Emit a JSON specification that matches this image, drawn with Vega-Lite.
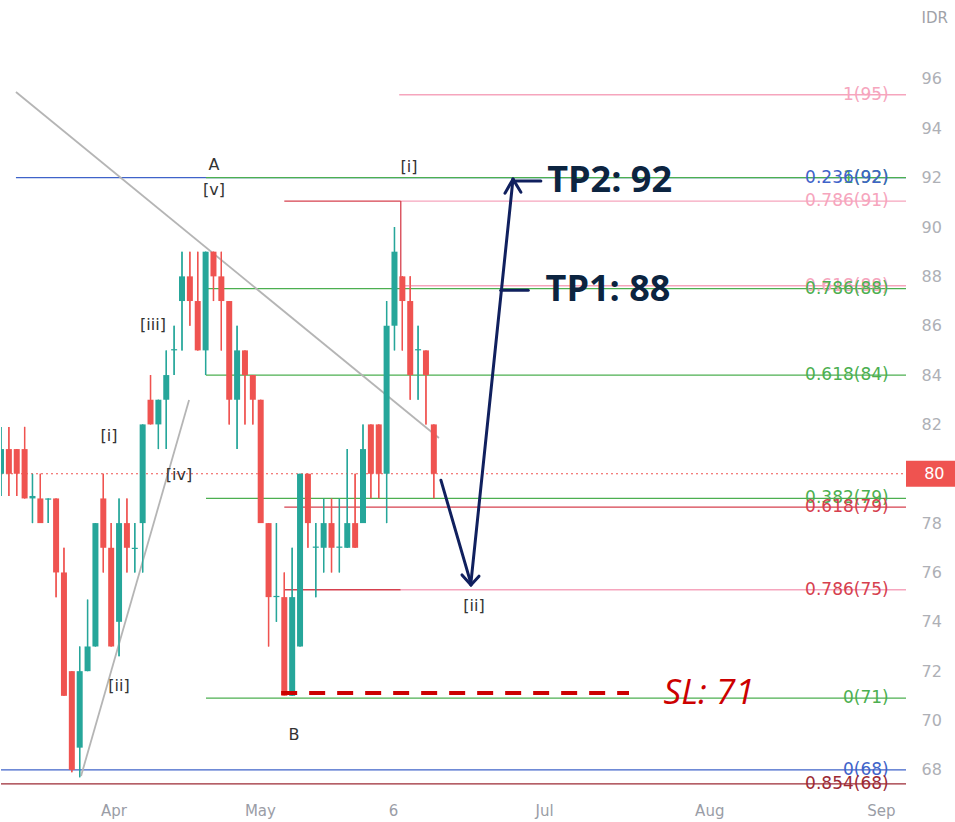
{
  "$schema": "https://vega.github.io/schema/vega-lite/v6.json",
  "width": 905,
  "height": 797,
  "padding": {"left": 0, "top": 0, "right": 2, "bottom": 4},
  "background": "white",
  "config": {"view": {"stroke": null}, "font": "DejaVu Sans", "scale": {"continuousPadding": 0}},
  "datasets": {
    "candles": [
      {"i":0,"o":80,"h":81.9,"l":79.1,"c":81},
      {"i":1,"o":81,"h":81.9,"l":79.1,"c":80},
      {"i":2,"o":81,"h":81,"l":79.1,"c":80},
      {"i":3,"o":81,"h":81.9,"l":79,"c":79},
      {"i":4,"o":79,"h":80,"l":78,"c":79.1},
      {"i":5,"o":79,"h":80,"l":78,"c":78},
      {"i":6,"o":78.95,"h":79,"l":78,"c":79},
      {"i":7,"o":79,"h":79,"l":75,"c":76},
      {"i":8,"o":76,"h":77,"l":71,"c":71},
      {"i":9,"o":72,"h":72,"l":67.9,"c":68},
      {"i":10,"o":68.9,"h":73,"l":67.7,"c":72},
      {"i":11,"o":72,"h":74.9,"l":72,"c":73},
      {"i":12,"o":73,"h":78,"l":73,"c":78},
      {"i":13,"o":79,"h":80,"l":76,"c":77},
      {"i":14,"o":77,"h":78,"l":73,"c":73},
      {"i":15,"o":74,"h":79,"l":72.6,"c":78},
      {"i":16,"o":78,"h":79,"l":76,"c":77},
      {"i":17,"o":76.95,"h":78,"l":76,"c":77},
      {"i":18,"o":78,"h":82,"l":76,"c":82},
      {"i":19,"o":83,"h":84,"l":82,"c":82},
      {"i":20,"o":82,"h":83,"l":81,"c":83},
      {"i":21,"o":83,"h":85,"l":81,"c":84},
      {"i":22,"o":85,"h":86,"l":84,"c":85.05},
      {"i":23,"o":87,"h":89,"l":85,"c":88},
      {"i":24,"o":88,"h":89,"l":86,"c":87},
      {"i":25,"o":87,"h":89,"l":85,"c":85},
      {"i":26,"o":85,"h":89,"l":84,"c":89},
      {"i":27,"o":89,"h":89,"l":87,"c":88},
      {"i":28,"o":88,"h":89,"l":85,"c":87},
      {"i":29,"o":87,"h":87,"l":82,"c":83},
      {"i":30,"o":83,"h":86,"l":81,"c":85},
      {"i":31,"o":85,"h":85,"l":82,"c":84},
      {"i":32,"o":84,"h":84,"l":82,"c":83},
      {"i":33,"o":83,"h":83,"l":78,"c":78},
      {"i":34,"o":78,"h":78,"l":73,"c":75},
      {"i":35,"o":75,"h":78,"l":74,"c":75.05},
      {"i":36,"o":75,"h":76,"l":71,"c":71},
      {"i":37,"o":71,"h":77,"l":71,"c":75},
      {"i":38,"o":73,"h":80,"l":73,"c":80},
      {"i":39,"o":80,"h":80,"l":77,"c":78},
      {"i":40,"o":77,"h":78,"l":75,"c":77.05},
      {"i":41,"o":77,"h":79,"l":76,"c":78},
      {"i":42,"o":78,"h":79,"l":76,"c":77},
      {"i":43,"o":77,"h":79,"l":76,"c":77.05},
      {"i":44,"o":77,"h":81,"l":77,"c":78},
      {"i":45,"o":78,"h":80,"l":77,"c":77},
      {"i":46,"o":78,"h":82,"l":78,"c":81},
      {"i":47,"o":82,"h":82,"l":79,"c":80},
      {"i":48,"o":82,"h":82,"l":79,"c":80},
      {"i":49,"o":80,"h":87,"l":78,"c":86},
      {"i":50,"o":86,"h":90,"l":85,"c":89},
      {"i":51,"o":88,"h":88,"l":85,"c":87},
      {"i":52,"o":87,"h":88,"l":83,"c":84},
      {"i":53,"o":85,"h":86,"l":83,"c":85.05},
      {"i":54,"o":85,"h":85,"l":82,"c":84},
      {"i":55,"o":82,"h":82,"l":79,"c":80}
    ],
    "fib": [
      {"a":50.6,"b":115,"p":95.36,"set":"pink"},
      {"a":1.9,"b":115,"p":92.0,"set":"blue"},
      {"a":26.05,"b":115,"p":92.0,"set":"green"},
      {"a":36,"b":50.8,"p":91.05,"set":"red"},
      {"a":50.8,"b":115,"p":91.05,"set":"pink"},
      {"a":50.8,"b":115,"p":87.62,"set":"pink"},
      {"a":26.05,"b":115,"p":87.5,"set":"green"},
      {"a":26.05,"b":115,"p":84.0,"set":"green"},
      {"a":26.05,"b":115,"p":79.0,"set":"green"},
      {"a":36,"b":115,"p":78.65,"set":"red"},
      {"a":36,"b":50.8,"p":75.3,"set":"red"},
      {"a":50.8,"b":115,"p":75.3,"set":"pink"},
      {"a":26.05,"b":115,"p":70.91,"set":"green"},
      {"a":0,"b":115,"p":68.0,"set":"blue"},
      {"a":0,"b":115,"p":67.43,"set":"darkred"}
    ],
    "fibvert": [
      {"a":50.8,"p1":91.05,"p2":87.62,"set":"red"}
    ],
    "fiblabels": [
      {"t":"1(95)","p":95.36,"set":"pink"},
      {"t":"1(92)","p":92.0,"set":"green"},
      {"t":"0.236(92)","p":92.0,"set":"blue"},
      {"t":"0.786(91)","p":91.05,"set":"pink"},
      {"t":"0.618(88)","p":87.62,"set":"pink"},
      {"t":"0.786(88)","p":87.5,"set":"green"},
      {"t":"0.618(84)","p":84.0,"set":"green"},
      {"t":"0.382(79)","p":79.0,"set":"green"},
      {"t":"0.618(79)","p":78.65,"set":"red"},
      {"t":"0.786(75)","p":75.3,"set":"red"},
      {"t":"0(71)","p":70.91,"set":"green"},
      {"t":"0(68)","p":68.0,"set":"blue"},
      {"t":"0.854(68)","p":67.43,"set":"darkred"}
    ],
    "trend": [
      {"x1":1.9,"p1":95.47,"x2":55.65,"p2":81.45},
      {"x1":10.17,"p1":67.75,"x2":23.9,"p2":82.99}
    ],
    "waves": [
      {"i":13.72,"p":81.53,"t":"[i]"},
      {"i":14.99,"p":71.40,"t":"[ii]"},
      {"i":19.31,"p":86.02,"t":"[iii]"},
      {"i":22.62,"p":79.95,"t":"[iv]"},
      {"i":27.07,"p":91.49,"t":"[v]"},
      {"i":27.07,"p":92.51,"t":"A"},
      {"i":37.23,"p":69.41,"t":"B"},
      {"i":51.84,"p":92.43,"t":"[i]"},
      {"i":60.1,"p":74.64,"t":"[ii]"}
    ],
    "arrows": [
      {"x1":55.9,"p1":79.74,"x2":59.72,"p2":75.55},
      {"x1":58.58,"p1":75.9,"x2":59.72,"p2":75.49},
      {"x1":59.72,"p1":75.49,"x2":60.74,"p2":75.85},
      {"x1":59.72,"p1":75.6,"x2":65.06,"p2":91.94},
      {"x1":64.04,"p1":91.37,"x2":65.06,"p2":91.94},
      {"x1":65.06,"p1":91.94,"x2":66.07,"p2":91.41},
      {"x1":65.06,"p1":91.86,"x2":68.6,"p2":91.86},
      {"x1":63.5,"p1":87.44,"x2":67.0,"p2":87.44}
    ],
    "targets": [
      {"i":69.4,"p":91.86,"t":"TP2: 92"},
      {"i":69.2,"p":87.44,"t":"TP1: 88"}
    ],
    "sl": [
      {"x1":35.6,"x2":79.8,"p":71.11,"t":"SL: 71","ti":84.2}
    ],
    "last": [
      {"p":80,"t":"80"}
    ]
  },
  "layer": [
    {
      "data": {"name": "candles"},
      "mark": {"type": "rule", "strokeWidth": 1.3, "clip": true},
      "encoding": {
        "x": {"field": "i", "type": "quantitative", "scale": {"domain": [0, 115], "nice": false, "zero": false, "padding": 0},
          "axis": {"values": [14.3, 32.9, 49.8, 69, 90, 111.8], "labelExpr": "datum.value < 20 ? 'Apr' : datum.value < 40 ? 'May' : datum.value < 60 ? '6' : datum.value < 80 ? 'Jul' : datum.value < 100 ? 'Aug' : 'Sep'", "ticks": false, "domain": false, "grid": false, "labelFlush": false, "labelColor": "#9a9da6", "labelFontSize": 15, "labelFont": "DejaVu Sans", "labelPadding": 6, "title": null}},
        "y": {"field": "l", "type": "quantitative", "scale": {"domain": [66.9, 99.2], "nice": false, "zero": false, "padding": 0},
          "axis": {"orient": "right", "values": [68, 70, 72, 74, 76, 78, 82, 84, 86, 88, 90, 92, 94, 96], "ticks": false, "domain": false, "grid": false, "labelColor": "#aeb0b6", "labelFontSize": 16, "labelFont": "DejaVu Sans", "labelPadding": 15, "title": "IDR", "titleAngle": 0, "titleAlign": "left", "titleBaseline": "middle", "titleX": 15, "titleY": 17, "titleColor": "#a0a2a8", "titleFontSize": 15, "titleFontWeight": "normal", "titleFont": "DejaVu Sans"}},
        "y2": {"field": "h"},
        "color": {"condition": {"test": "datum.c >= datum.o", "value": "#26a69a"}, "value": "#ef5350"}
      }
    },
    {
      "data": {"name": "fib"},
      "mark": {"type": "rule", "strokeWidth": 1.3, "clip": true},
      "encoding": {
        "x": {"field": "a", "type": "quantitative"},
        "x2": {"field": "b"},
        "y": {"field": "p", "type": "quantitative"},
        "color": {"field": "set", "type": "nominal", "scale": {"domain": ["green", "blue", "pink", "red", "darkred"], "range": ["#4caf50", "#3f63c9", "#f6a5bd", "#d6404e", "#9c2a35"]}, "legend": null}
      }
    },
    {
      "data": {"name": "fibvert"},
      "mark": {"type": "rule", "strokeWidth": 1.3, "color": "#d6404e"},
      "encoding": {
        "x": {"field": "a", "type": "quantitative"},
        "y": {"field": "p1", "type": "quantitative"},
        "y2": {"field": "p2"}
      }
    },
    {
      "data": {"name": "last"},
      "mark": {"type": "rule", "strokeWidth": 1, "color": "#ef5350", "strokeDash": [2, 3]},
      "encoding": {
        "x": {"datum": 0, "type": "quantitative"},
        "x2": {"datum": 115},
        "y": {"field": "p", "type": "quantitative"}
      }
    },
    {
      "data": {"name": "trend"},
      "mark": {"type": "rule", "strokeWidth": 1.8, "color": "#b5b5b5", "clip": true},
      "encoding": {
        "x": {"field": "x1", "type": "quantitative"},
        "x2": {"field": "x2"},
        "y": {"field": "p1", "type": "quantitative"},
        "y2": {"field": "p2"}
      }
    },
    {
      "data": {"name": "candles"},
      "mark": {"type": "rule", "strokeWidth": 1.3, "clip": true},
      "encoding": {
        "x": {"field": "i", "type": "quantitative"},
        "y": {"field": "l", "type": "quantitative"},
        "y2": {"field": "h"},
        "color": {"condition": {"test": "datum.c >= datum.o", "value": "#26a69a"}, "value": "#ef5350"}
      }
    },
    {
      "data": {"name": "candles"},
      "mark": {"type": "bar", "width": 6, "clip": true},
      "encoding": {
        "x": {"field": "i", "type": "quantitative"},
        "y": {"field": "o", "type": "quantitative"},
        "y2": {"field": "c"},
        "color": {"condition": {"test": "datum.c >= datum.o", "value": "#26a69a"}, "value": "#ef5350"}
      }
    },
    {
      "data": {"name": "fiblabels"},
      "mark": {"type": "text", "align": "right", "baseline": "middle", "fontSize": 17, "font": "DejaVu Sans"},
      "encoding": {
        "x": {"datum": 112.8, "type": "quantitative"},
        "y": {"field": "p", "type": "quantitative"},
        "text": {"field": "t"},
        "color": {"field": "set", "type": "nominal", "legend": null}
      }
    },
    {
      "data": {"name": "waves"},
      "mark": {"type": "text", "align": "center", "baseline": "middle", "fontSize": 16, "font": "DejaVu Sans", "color": "#333333"},
      "encoding": {
        "x": {"field": "i", "type": "quantitative"},
        "y": {"field": "p", "type": "quantitative"},
        "text": {"field": "t"}
      }
    },
    {
      "data": {"name": "arrows"},
      "mark": {"type": "rule", "strokeWidth": 3, "color": "#10205e", "strokeCap": "round"},
      "encoding": {
        "x": {"field": "x1", "type": "quantitative"},
        "x2": {"field": "x2"},
        "y": {"field": "p1", "type": "quantitative"},
        "y2": {"field": "p2"}
      }
    },
    {
      "data": {"name": "targets"},
      "mark": {"type": "text", "align": "left", "baseline": "middle", "fontSize": 36, "fontWeight": "bold", "font": "Open Sans", "color": "#0c2440"},
      "encoding": {
        "x": {"field": "i", "type": "quantitative"},
        "y": {"field": "p", "type": "quantitative"},
        "text": {"field": "t"}
      }
    },
    {
      "data": {"name": "sl"},
      "mark": {"type": "rule", "strokeWidth": 4, "color": "#cc0000", "strokeDash": [16, 12]},
      "encoding": {
        "x": {"field": "x1", "type": "quantitative"},
        "x2": {"field": "x2"},
        "y": {"field": "p", "type": "quantitative"}
      }
    },
    {
      "data": {"name": "sl"},
      "mark": {"type": "text", "align": "left", "baseline": "middle", "fontSize": 35, "fontStyle": "italic", "font": "Open Sans", "color": "#cc0000"},
      "encoding": {
        "x": {"field": "ti", "type": "quantitative"},
        "y": {"field": "p", "type": "quantitative"},
        "text": {"field": "t"}
      }
    },
    {
      "data": {"name": "last"},
      "mark": {"type": "rect", "color": "#ef5350", "clip": false},
      "encoding": {
        "x": {"datum": 115, "type": "quantitative"},
        "x2": {"datum": 121.3},
        "y": {"datum": 79.47, "type": "quantitative"},
        "y2": {"datum": 80.53}
      }
    },
    {
      "data": {"name": "last"},
      "mark": {"type": "text", "align": "center", "baseline": "middle", "fontSize": 16, "font": "DejaVu Sans", "color": "white"},
      "encoding": {
        "x": {"datum": 118.6, "type": "quantitative"},
        "y": {"field": "p", "type": "quantitative"},
        "text": {"field": "t"}
      }
    }
  ]
}
